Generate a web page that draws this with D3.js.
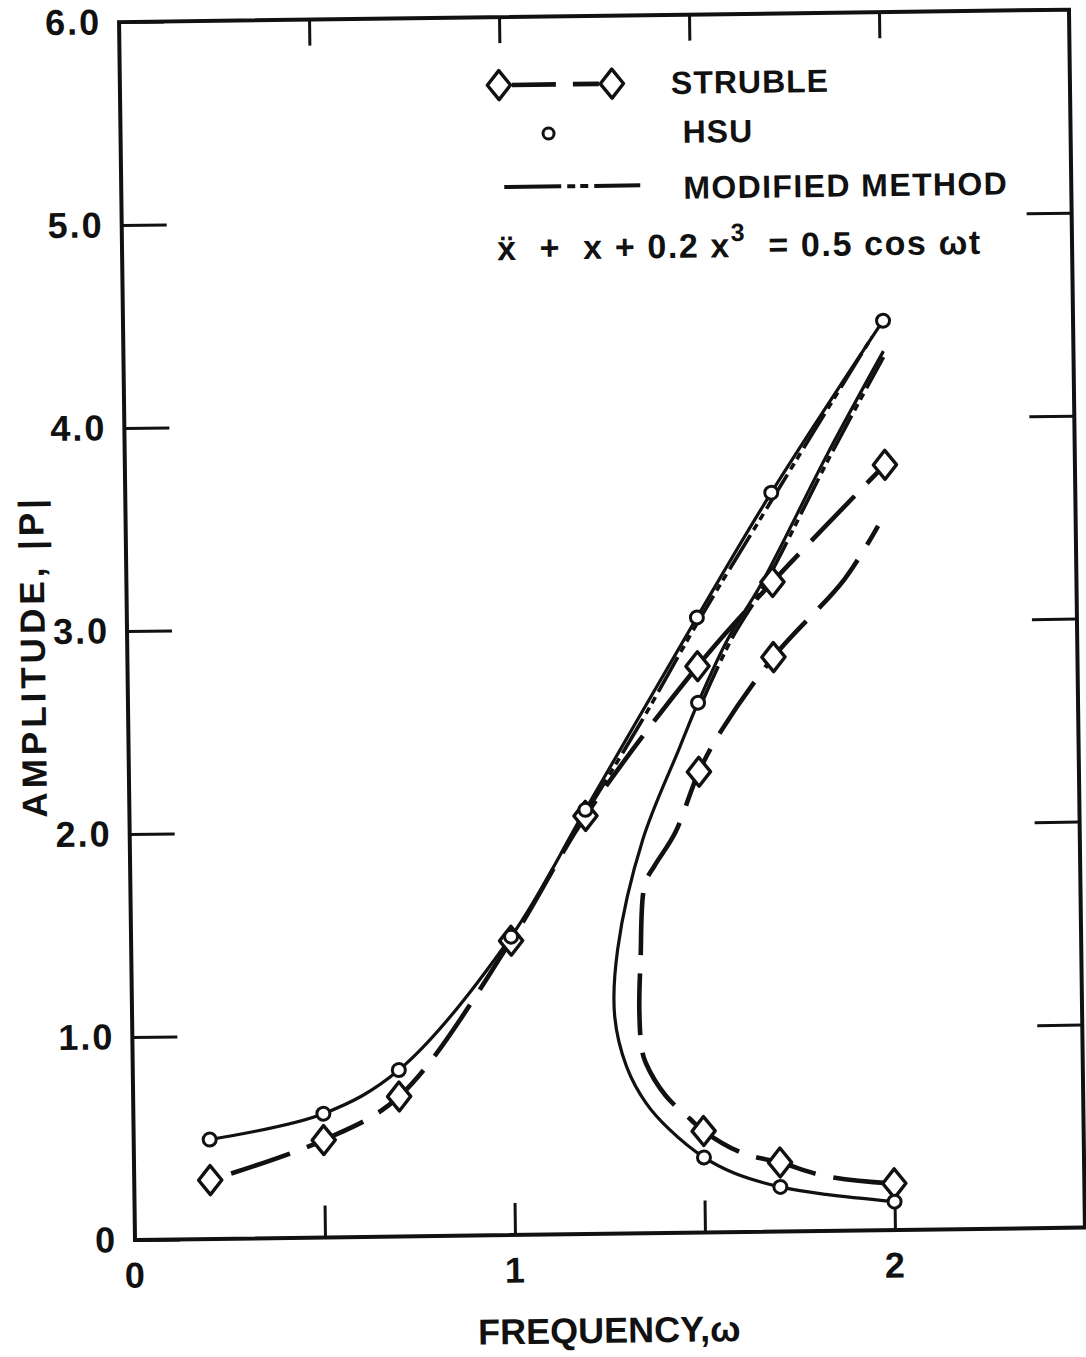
<!DOCTYPE html>
<html>
<head>
<meta charset="utf-8">
<script src="https://cdn.jsdelivr.net/npm/d3@7"></script>
<style>
  html, body { margin: 0; padding: 0; background: #fff; }
  svg { display: block; }
  text { font-family: "Liberation Sans", "DejaVu Sans", Arial, sans-serif; font-weight: bold; fill: #111; }
</style>
</head>
<body>
<svg id="chart" width="1086" height="1357"></svg>
<script>
// Amplitude response of the forced Duffing oscillator  x'' + x + 0.2x^3 = 0.5 cos(wt)

// ---- axis ticks ----
const yTickValues = [0, 1, 2, 3, 4, 5, 6];
const yTickLabels = ["0", "1.0", "2.0", "3.0", "4.0", "5.0", "6.0"];
const xLabelValues = [0, 1, 2];
const xTickLabels = ["0", "1", "2"];
const xTickMarks = [0.5, 1.0, 1.5, 2.0];

// ---- HSU: in-phase branch (circles joined by a solid line) ----
const hsuUpperW = [0.2, 0.5, 0.7, 1.0, 1.2, 1.5, 1.7, 2.0];
const hsuUpperA = [0.49, 0.61, 0.82, 1.47, 2.09, 3.03, 3.64, 4.48];

// ---- HSU: out-of-phase branch (traced curve) and its computed points ----
const hsuBranchW = [2.0, 1.85, 1.67, 1.58, 1.5, 1.45, 1.35, 1.28, 1.27, 1.30, 1.35, 1.41, 1.5, 1.58, 1.7, 1.82, 2.0];
const hsuBranchA = [4.33, 3.83, 3.19, 2.92, 2.61, 2.39, 1.94, 1.40, 1.07, 0.82, 0.64, 0.51, 0.37, 0.29, 0.22, 0.18, 0.14];
const hsuBranchPtW = [1.5, 1.5, 1.7, 2.0];
const hsuBranchPtA = [2.61, 0.37, 0.22, 0.14];

// ---- STRUBLE: in-phase branch (diamonds, dashed line) ----
const strubleUpperW = [0.2, 0.5, 0.7, 1.0, 1.2, 1.5, 1.7, 2.0];
const strubleUpperA = [0.29, 0.48, 0.69, 1.45, 2.06, 2.79, 3.20, 3.77];

// ---- STRUBLE: out-of-phase branch (traced dashed curve) and its points ----
const strubleBranchW = [1.98, 1.89, 1.7, 1.56, 1.5, 1.435, 1.38, 1.354, 1.34, 1.335, 1.34, 1.35, 1.40, 1.465, 1.5, 1.6, 1.7, 1.82, 1.99];
const strubleBranchA = [3.47, 3.21, 2.83, 2.47, 2.27, 1.97, 1.81, 1.72, 1.35, 1.10, 0.91, 0.84, 0.68, 0.56, 0.50, 0.39, 0.34, 0.27, 0.23];
const strubleBranchPtW = [1.7, 1.5, 1.5, 1.7, 2.0];
const strubleBranchPtA = [2.83, 2.27, 0.50, 0.34, 0.23];

// ---- MODIFIED METHOD (dash-dot), where it separates from the HSU lines ----
const modUpperW = [1.2, 1.35, 1.5, 1.7, 1.97];
const modUpperA = [2.07, 2.52, 3.00, 3.60, 4.40];
const modBranchW = [1.51, 1.59, 1.68, 1.86, 2.0];
const modBranchA = [2.61, 2.92, 3.19, 3.83, 4.30];

const INK = "#111";
const DASH_STRUBLE = "62,18";
const DASH_MODIFIED = "40,6,7,5,7,6";

const svg = d3.select("#chart");
// the whole sheet sits very slightly tilted
const sheet = svg.append("g").attr("transform", "rotate(-0.75,135,1240)");

const x = d3.scaleLinear().domain([0, 2.5]).range([135, 1085]);
const y = d3.scaleLinear().domain([0, 6]).range([1240, 22]);

// ---- frame ----
sheet.append("rect")
  .attr("x", x(0)).attr("y", y(6))
  .attr("width", x(2.5) - x(0)).attr("height", y(0) - y(6))
  .attr("fill", "none").attr("stroke", INK).attr("stroke-width", 4);

function styleAxis(g, withText) {
  g.select(".domain").remove();
  g.selectAll(".tick line").attr("stroke", INK).attr("stroke-width", 3);
  if (withText) {
    g.selectAll(".tick text").attr("fill", INK).style("font-size", "36px").style("letter-spacing", "2px");
  } else {
    g.selectAll(".tick text").remove();
  }
}

// left axis: inward ticks + labels
sheet.append("g").attr("transform", `translate(${x(0)},0)`)
  .call(d3.axisLeft(y).tickValues(yTickValues).tickFormat((d, i) => yTickLabels[i])
        .tickSizeInner(-45).tickSizeOuter(0).tickPadding(18))
  .call(g => styleAxis(g, true));

// right axis: inward ticks only
sheet.append("g").attr("transform", `translate(${x(2.5)},0)`)
  .call(d3.axisRight(y).tickValues([1, 2, 3, 4, 5]).tickSizeInner(-45).tickSizeOuter(0))
  .call(g => styleAxis(g, false));

// bottom axis: inward tick marks
sheet.append("g").attr("transform", `translate(0,${y(0)})`)
  .call(d3.axisBottom(x).tickValues(xTickMarks).tickSizeInner(-32).tickSizeOuter(0))
  .call(g => styleAxis(g, false));

// bottom axis labels
sheet.append("g").attr("transform", `translate(0,${y(0)})`)
  .call(d3.axisBottom(x).tickValues(xLabelValues).tickFormat((d, i) => xTickLabels[i])
        .tickSize(0).tickPadding(22))
  .call(g => { styleAxis(g, true); g.selectAll(".tick line").remove(); });

// top axis: inward tick marks
sheet.append("g").attr("transform", `translate(0,${y(6)})`)
  .call(d3.axisTop(x).tickValues(xTickMarks).tickSizeInner(-26).tickSizeOuter(0))
  .call(g => styleAxis(g, false));

// ---- axis titles ----
sheet.append("text")
  .attr("x", 608).attr("y", 1349)
  .attr("text-anchor", "middle")
  .style("font-size", "36px")
  .text("FREQUENCY,ω");

sheet.append("text")
  .attr("transform", "translate(40,655) rotate(-90)")
  .attr("text-anchor", "middle").attr("dy", "0.36em")
  .style("font-size", "35px").style("letter-spacing", "4px")
  .text("AMPLITUDE, |P|");

// ---- curves ----
const curve = d3.line()
  .x(d => x(d[0])).y(d => y(d[1]))
  .curve(d3.curveCatmullRom.alpha(0.5));

const lines = sheet.append("g").attr("fill", "none").attr("stroke", INK).attr("stroke-linecap", "butt");

lines.append("path").datum(d3.zip(hsuUpperW, hsuUpperA))
  .attr("d", curve).attr("stroke-width", 3.2);

lines.append("path").datum(d3.zip(hsuBranchW, hsuBranchA))
  .attr("d", curve).attr("stroke-width", 3.2);

lines.append("path").datum(d3.zip(modUpperW, modUpperA))
  .attr("d", curve).attr("stroke-width", 3.6).attr("stroke-dasharray", DASH_MODIFIED);

lines.append("path").datum(d3.zip(modBranchW, modBranchA))
  .attr("d", curve).attr("stroke-width", 3.6).attr("stroke-dasharray", DASH_MODIFIED);

lines.append("path").datum(d3.zip(strubleUpperW, strubleUpperA))
  .attr("d", curve).attr("stroke-width", 4.6)
  .attr("stroke-dasharray", DASH_STRUBLE).attr("stroke-dashoffset", 58);

lines.append("path").datum(d3.zip(strubleBranchW, strubleBranchA))
  .attr("d", curve).attr("stroke-width", 4.6)
  .attr("stroke-dasharray", DASH_STRUBLE).attr("stroke-dashoffset", 40);

// ---- markers ----
const rhombus = {
  draw(ctx, size) {
    const h = Math.sqrt(size) * 0.56, w = h * 0.8;
    ctx.moveTo(0, -h); ctx.lineTo(w, 0); ctx.lineTo(0, h); ctx.lineTo(-w, 0); ctx.closePath();
  }
};
const diamondPath = d3.symbol().type(rhombus).size(670)();

const strublePts = d3.zip(strubleUpperW, strubleUpperA).concat(d3.zip(strubleBranchPtW, strubleBranchPtA));
sheet.append("g").selectAll("path").data(strublePts).join("path")
  .attr("transform", d => `translate(${x(d[0])},${y(d[1])})`)
  .attr("d", diamondPath)
  .attr("fill", "#fff").attr("stroke", INK).attr("stroke-width", 3.4).attr("stroke-linejoin", "round");

const hsuPts = d3.zip(hsuUpperW, hsuUpperA).concat(d3.zip(hsuBranchPtW, hsuBranchPtA));
sheet.append("g").selectAll("circle").data(hsuPts).join("circle")
  .attr("cx", d => x(d[0])).attr("cy", d => y(d[1])).attr("r", 6.5)
  .attr("fill", "#fff").attr("stroke", INK).attr("stroke-width", 3);

// ---- legend ----
const legend = sheet.append("g");
legend.append("line").attr("x1", 527).attr("x2", 571).attr("y1", 90).attr("y2", 90)
  .attr("stroke", INK).attr("stroke-width", 4.6);
legend.append("line").attr("x1", 588).attr("x2", 614).attr("y1", 90).attr("y2", 90)
  .attr("stroke", INK).attr("stroke-width", 4.6);
legend.selectAll("path.key").data([514, 627]).join("path").attr("class", "key")
  .attr("transform", d => `translate(${d},90)`)
  .attr("d", diamondPath)
  .attr("fill", "#fff").attr("stroke", INK).attr("stroke-width", 3.4).attr("stroke-linejoin", "round");
legend.append("text").attr("x", 686).attr("y", 101).style("font-size", "32px").style("letter-spacing", "1px").text("STRUBLE");

legend.append("circle").attr("cx", 563).attr("cy", 139).attr("r", 5.5)
  .attr("fill", "#fff").attr("stroke", INK).attr("stroke-width", 3);
legend.append("text").attr("x", 697).attr("y", 150).style("font-size", "32px").style("letter-spacing", "1px").text("HSU");

legend.append("line").attr("x1", 518).attr("x2", 654).attr("y1", 192).attr("y2", 192)
  .attr("stroke", INK).attr("stroke-width", 4).attr("stroke-dasharray", "57,6,8,5,8,6");
legend.append("text").attr("x", 697).attr("y", 206).style("font-size", "32px").style("letter-spacing", "1.4px").text("MODIFIED METHOD");

const eq = legend.append("text").attr("x", 510).attr("y", 265)
  .style("font-size", "34px").style("letter-spacing", "1.6px").style("white-space", "pre");
eq.append("tspan").text("ẍ  +  x + 0.2 x");
eq.append("tspan").attr("dy", -16).style("font-size", "25px").text("3");
eq.append("tspan").attr("dy", 16).text("  = 0.5 cos ωt");
</script>
</body>
</html>
